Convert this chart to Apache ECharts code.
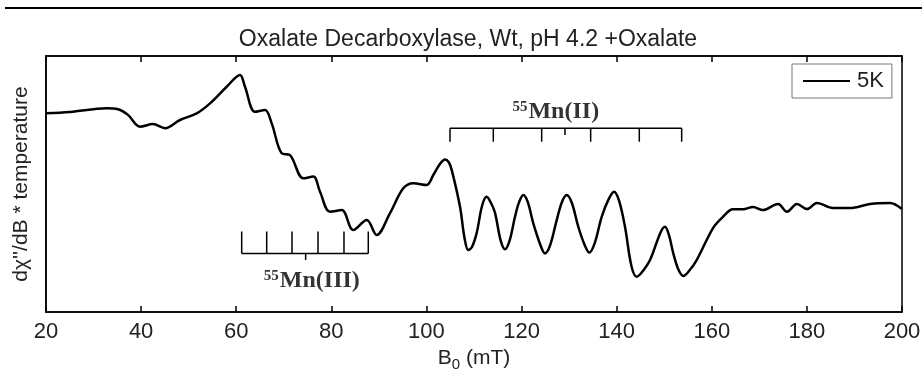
<!DOCTYPE html>
<html>
<head>
<meta charset="utf-8">
<script src="https://cdn.jsdelivr.net/npm/echarts@6/dist/echarts.min.js"></script>
<style>
html,body{margin:0;padding:0;background:#fff;}
#c{width:922px;height:373px;}
</style>
</head>
<body>
<div id="c"></div>
<script>
// Field (mT) and signal (arbitrary units, 0 = bottom of frame, 100 = top)
const fieldB = [20, 25.05, 32.76, 35.14, 37.24, 39.77, 42.5, 45.02, 48.18, 51.69, 54.49, 58.0, 60.79, 61.84, 63.95, 66.05, 67.46, 69.56, 71.31, 74.1, 76.21, 77.62, 79.72, 82.18, 84.62, 87.44, 89.54, 92.34, 95.13, 97.24, 100.05, 101.44, 102.9, 103.9, 104.7, 105.31, 107.06, 108.0, 108.8, 109.6, 110.57, 111.7, 112.67, 113.6, 114.42, 115.6, 116.52, 117.5, 118.62, 119.5, 120.37, 121.3, 122.47, 124.0, 124.93, 126.0, 127.39, 128.5, 129.49, 130.6, 131.93, 133.2, 134.25, 135.4, 136.85, 138.3, 139.44, 140.5, 141.75, 143.1, 144.21, 145.3, 147.01, 149.2, 150.16, 151.0, 151.91, 153.0, 154.01, 155.2, 156.83, 160.26, 162.36, 164.46, 166.56, 168.67, 170.77, 173.92, 175.82, 177.92, 180.02, 182.12, 185.49, 189.06, 193.27, 197.47, 200];
const signal5K = [77.6, 78.1, 79.6, 79.2, 77.0, 72.4, 73.4, 71.8, 75.0, 77.6, 81.5, 88.0, 92.6, 88.0, 78.2, 78.9, 73.7, 62.0, 61.3, 52.2, 52.9, 47.0, 39.2, 39.8, 32.0, 35.9, 30.1, 38.6, 48.3, 50.3, 49.6, 53.5, 58.0, 59.6, 58.5, 55.5, 41.1, 29.0, 24.2, 25.5, 30.9, 41.5, 45.0, 42.5, 38.7, 28.0, 24.5, 28.0, 37.2, 43.0, 45.7, 43.0, 34.6, 26.0, 22.9, 26.0, 35.9, 43.0, 45.7, 42.5, 33.3, 26.5, 23.2, 27.0, 37.2, 44.0, 47.0, 43.5, 33.3, 18.0, 13.8, 15.5, 20.3, 31.0, 33.3, 30.0, 22.9, 16.5, 14.1, 16.0, 20.3, 32.8, 37.2, 40.1, 40.1, 41.0, 39.8, 42.2, 39.2, 42.2, 40.2, 42.6, 40.6, 40.6, 42.2, 42.6, 40.2];

// Hyperfine stick positions (mT)
const mn3Lines = [61.15, 66.41, 71.73, 77.20, 82.66, 87.77];
const mn3Centre = 74.6;
const mn2Lines = [104.95, 114.06, 124.23, 134.53, 144.76, 153.67];
const mn2Centre = 129.13;
// stick levels (signal units): [bar, tick end, centre tick end]
const mn3Levels = [22.9, 31.4, 20.3];
const mn2Levels = [71.8, 66.5, 69.1];
// label anchors [field, signal]
const mn3LabelAt = [75.9, 12.1];
const mn2LabelAt = [127.2, 78.1];

const xTicks = [20, 40, 60, 80, 100, 120, 140, 160, 180, 200];
const seriesName = '5K';

const chart = echarts.init(document.getElementById('c'), null, {renderer: 'canvas'});
const curve = fieldB.map((b, i) => [b, signal5K[i]]);

const stickStyle = {color: '#000', width: 1.5};
function seg(name, pts) {
  return {name: name, type: 'line', data: pts, symbol: 'none', silent: true,
          lineStyle: stickStyle, animation: false, z: 3};
}
const sticks = [];
sticks.push(seg('mn3bar', [[mn3Lines[0], mn3Levels[0]], [mn3Lines[mn3Lines.length - 1], mn3Levels[0]]]));
mn3Lines.forEach(b => sticks.push(seg('mn3', [[b, mn3Levels[0]], [b, mn3Levels[1]]])));
sticks.push(seg('mn3c', [[mn3Centre, mn3Levels[0]], [mn3Centre, mn3Levels[2]]]));
sticks.push(seg('mn2bar', [[mn2Lines[0], mn2Levels[0]], [mn2Lines[mn2Lines.length - 1], mn2Levels[0]]]));
mn2Lines.forEach(b => sticks.push(seg('mn2', [[b, mn2Levels[0]], [b, mn2Levels[1]]])));
sticks.push(seg('mn2c', [[mn2Centre, mn2Levels[0]], [mn2Centre, mn2Levels[2]]]));

const labelRich = {
  sup: {fontFamily: 'Liberation Serif', fontWeight: 'bold', fontSize: 15, color: '#000', verticalAlign: 'top', padding: [0, 1, 10, 0]},
  b: {fontFamily: 'Liberation Serif', fontWeight: 'bold', fontSize: 24, color: '#000'}
};
function labelSeries(at, txt) {
  return {type: 'scatter', data: [at], symbolSize: 0, silent: true, animation: false,
    label: {show: true, position: 'inside', formatter: '{sup|55}{b|' + txt + '}', rich: labelRich}};
}

chart.setOption({
  animation: false,
  backgroundColor: '#fff',
  title: {
    text: 'Oxalate Decarboxylase, Wt, pH 4.2 +Oxalate',
    left: 463, textAlign: 'center', top: 23,
    textStyle: {fontFamily: 'Liberation Sans', fontSize: 23, fontWeight: 'normal', color: '#222'}
  },
  graphic: [{type: 'line', shape: {x1: 5, y1: 8, x2: 922, y2: 8}, style: {stroke: '#000', lineWidth: 2}}],
  legend: {
    data: [seriesName], left: 792, top: 64,
    padding: [6, 8, 6, 11], itemGap: 5,
    itemWidth: 47, itemHeight: 2, icon: 'rect',
    borderColor: '#777', borderWidth: 1, borderRadius: 0,
    textStyle: {fontFamily: 'Liberation Sans', fontSize: 22, color: '#222', padding: [0, 0, 0, 2]}
  },
  grid: {left: 46, right: 20, top: 56, bottom: 61, outerBoundsMode: 'none', containLabel: false,
    show: true, borderColor: '#000', borderWidth: 1.5, backgroundColor: '#fff'},
  xAxis: [{
    type: 'value', min: 20, max: 200, interval: 20, position: 'bottom',
    axisLine: {show: true, onZero: false, lineStyle: {color: '#000', width: 1.5}},
    axisTick: {show: true, inside: true, length: 6, lineStyle: {color: '#000', width: 1.5}},
    axisLabel: {fontFamily: 'Liberation Sans', fontSize: 22, color: '#222', margin: 9,
      formatter: v => xTicks.indexOf(v) >= 0 ? String(v) : ''},
    splitLine: {show: false},
    name: '{a|B}{s|0}{a| (mT)}', nameLocation: 'middle', nameGap: 32,
    nameTextStyle: {rich: {
      a: {fontFamily: 'Liberation Sans', fontSize: 21, color: '#222'},
      s: {fontFamily: 'Liberation Sans', fontSize: 15, color: '#222', verticalAlign: 'bottom', padding: [12, 0, 0, 0]}
    }}
  }, {
    type: 'value', min: 20, max: 200, interval: 20, position: 'top',
    axisLine: {show: true, onZero: false, lineStyle: {color: '#000', width: 1.5}},
    axisTick: {show: true, inside: true, length: 6, lineStyle: {color: '#000', width: 1.5}},
    axisLabel: {show: false}, splitLine: {show: false}
  }],
  yAxis: [{
    type: 'value', min: 0, max: 100,
    axisLine: {show: true, lineStyle: {color: '#000', width: 1.5}},
    axisTick: {show: false}, axisLabel: {show: false}, splitLine: {show: false},
    name: 'dχ\'\'/dB * temperature', nameLocation: 'middle', nameRotate: 90, nameGap: 14,
    nameTextStyle: {fontFamily: 'Liberation Sans', fontSize: 21, color: '#222'}
  }],
  series: [{
    name: seriesName, type: 'line', data: curve, symbol: 'none', smooth: 0.35,
    lineStyle: {color: '#000', width: 2.5}, itemStyle: {color: '#000'}, z: 4
  }].concat(sticks).concat([labelSeries(mn3LabelAt, 'Mn(III)'), labelSeries(mn2LabelAt, 'Mn(II)')])
});
</script>
</body>
</html>
